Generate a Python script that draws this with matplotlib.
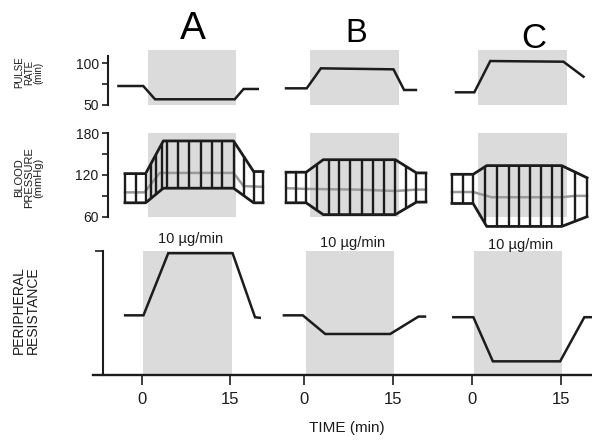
import numpy as np
import matplotlib
matplotlib.use("Agg")
import matplotlib.pyplot as plt
import matplotlib.transforms as mtransforms

plt.rcParams['font.family'] = ['Liberation Sans', 'DejaVu Sans']

# ---------------- data (time in min relative to start of infusion) ----------------
panels = ['A', 'B', 'C']
dose_label = '10 µg/min'
time_tick_values = [0, 15]
time_tick_labels = ['0', '15']
infusion_start, infusion_end = 0.3, 15.3

# Pulse rate (beats/min)
pulse_t_A = [-4.7, -0.5, 1.5, 15.0, 16.5, 18.9]
pulse_A = [72.3, 72.3, 56.3, 56.3, 68.7, 68.7]
pulse_t_B = [-3.8, -0.3, 2.1, 14.4, 16.2, 18.2]
pulse_B = [69.5, 69.5, 93.6, 92.4, 67.5, 67.5]
pulse_t_C = [-3.5, -0.4, 2.3, 14.7, 18.1]
pulse_C = [64.7, 64.7, 102.4, 101.6, 83.5]

# Blood pressure envelope (mmHg): systolic / diastolic outline
bp_t_A = [-3.6, -0.1, 2.9, 14.8, 18.2, 19.8]
bp_sys_A = [122, 122, 169, 169, 125, 125]
bp_dia_A = [80, 80, 101, 101, 80, 80]
bp_t_B = [-3.8, -0.4, 2.5, 14.7, 18.3, 19.9]
bp_sys_B = [124, 124, 142, 142, 123, 123]
bp_dia_B = [80, 80, 63, 63, 81, 81]
bp_t_C = [-4.2, -0.6, 1.7, 14.4, 18.7]
bp_sys_C = [121, 121, 133.5, 133.5, 116]
bp_dia_C = [79, 79, 46, 46, 60]

# Mean blood pressure (gray line)
mean_t_A = [-3.6, -0.3, 2.3, 14.8, 16.5, 19.8]
mean_A = [95, 95, 123, 123, 104, 103]
mean_t_B = [-3.8, -0.4, 8.0, 14.7, 18.3, 19.9]
mean_B = [101, 100, 99, 97, 99, 99]
mean_t_C = [-4.2, -0.6, 2.5, 14.4, 16.7, 18.7]
mean_C = [95.5, 95.5, 88, 88, 90, 90]

# Beat / measurement times (vertical bars)
beats_A = [-3.6, -1.8, -0.1, 0.8, 1.6, 2.6, 3.6, 5.4, 7.3, 9.3, 11.1, 12.9, 14.8, 16.5, 18.2, 19.8]
beats_B = [-3.8, -2.1, -0.4, 1.4, 3.4, 5.2, 7.0, 9.0, 10.9, 12.8, 14.7, 16.5, 18.3, 19.9]
beats_C = [-4.2, -2.3, -0.6, 1.4, 3.4, 5.4, 7.2, 9.1, 10.9, 12.7, 14.4, 16.7, 18.7]

# Peripheral resistance (arbitrary units)
pr_t_A = [-2.8, 0.3, 4.5, 15.4, 19.2, 20.0]
pr_A = [4.8, 4.8, 9.8, 9.8, 4.65, 4.6]
pr_t_B = [-3.4, -0.2, 3.6, 14.6, 19.4, 20.5]
pr_B = [4.8, 4.8, 3.3, 3.3, 4.7, 4.7]
pr_t_C = [-3.2, 0.2, 3.5, 14.9, 19.0, 20.3]
pr_C = [4.65, 4.65, 1.1, 1.1, 4.65, 4.65]

# ---------------- layout ----------------
block_offset = {'A': 0.0, 'B': 27.5, 'C': 56.0}
XLIM = (-8.2, 76.3)
W, H = 592, 443
INK = '#1c1c1c'
SHADE = '#dbdbdb'
MEAN_GRAY = '#9a9a9a'

pulse = {'A': (pulse_t_A, pulse_A), 'B': (pulse_t_B, pulse_B), 'C': (pulse_t_C, pulse_C)}
bp = {'A': (bp_t_A, bp_sys_A, bp_dia_A), 'B': (bp_t_B, bp_sys_B, bp_dia_B), 'C': (bp_t_C, bp_sys_C, bp_dia_C)}
bp_mean = {'A': (mean_t_A, mean_A), 'B': (mean_t_B, mean_B), 'C': (mean_t_C, mean_C)}
beats = {'A': beats_A, 'B': beats_B, 'C': beats_C}
pr = {'A': (pr_t_A, pr_A), 'B': (pr_t_B, pr_B), 'C': (pr_t_C, pr_C)}


def rect(left, top, right, bottom):
    return [left / W, 1 - bottom / H, (right - left) / W, (bottom - top) / H]


fig = plt.figure(figsize=(W / 100, H / 100), dpi=100)
fig.patch.set_facecolor('white')

ax_pulse = fig.add_axes(rect(97.8, 50, 596.5, 105))
ax_bp = fig.add_axes(rect(97.8, 133.3, 596.5, 216.7))
ax_pr = fig.add_axes(rect(93.3, 250.7, 592, 375))

for ax in (ax_pulse, ax_bp, ax_pr):
    ax.set_xlim(*XLIM)
    ax.set_facecolor('none')
    for s in ('top', 'right'):
        ax.spines[s].set_visible(False)
    ax.spines['left'].set_linewidth(1.5)
    ax.spines['left'].set_color(INK)
    for p in panels:
        off = block_offset[p]
        ax.axvspan(off + infusion_start, off + infusion_end, color=SHADE, lw=0, zorder=0)

# ----- pulse rate -----
ax_pulse.set_ylim(49.4, 115.7)
ax_pulse.spines['bottom'].set_visible(False)
ax_pulse.spines['left'].set_position(('data', -6.4))
ax_pulse.spines['left'].set_bounds(49.4, 108.5)
ax_pulse.set_xticks([])
ax_pulse.set_yticks([50, 75, 100])
ax_pulse.set_yticklabels(['50', '', '100'])
for p in panels:
    t, v = pulse[p]
    ax_pulse.plot(np.array(t) + block_offset[p], v, color=INK, lw=1.8, solid_joinstyle='miter')

# ----- blood pressure -----
ax_bp.set_ylim(60, 180)
ax_bp.spines['bottom'].set_visible(False)
ax_bp.spines['left'].set_position(('data', -6.4))
ax_bp.set_xticks([])
ax_bp.set_yticks([60, 90, 120, 150, 180])
ax_bp.set_yticklabels(['60', '', '120', '', '180'])
for p in panels:
    off = block_offset[p]
    t, sys_, dia_ = bp[p]
    tm, m = bp_mean[p]
    ax_bp.plot(np.array(tm) + off, m, color=MEAN_GRAY, lw=1.8, clip_on=False, zorder=2)
    tb = np.array(beats[p])
    ax_bp.vlines(tb + off, np.interp(tb, t, dia_), np.interp(tb, t, sys_),
                 color=INK, lw=1.7, clip_on=False, zorder=3)
    ax_bp.plot(np.array(t) + off, sys_, color=INK, lw=2.0, clip_on=False, zorder=4)
    ax_bp.plot(np.array(t) + off, dia_, color=INK, lw=2.0, clip_on=False, zorder=4)

for ax in (ax_pulse, ax_bp):
    ax.tick_params(axis='y', direction='out', length=4, width=1.2, colors=INK,
                   labelsize=10, pad=3)

# ----- peripheral resistance -----
ax_pr.set_ylim(0, 10)
ax_pr.spines['bottom'].set_linewidth(1.7)
ax_pr.spines['bottom'].set_color(INK)
ax_pr.spines['left'].set_position(('data', -6.5))
ax_pr.set_yticks([10])
ax_pr.set_yticklabels([''])
ax_pr.tick_params(axis='y', direction='out', length=6, width=1.2, colors=INK)
xt, xl = [], []
for p in panels:
    for v, lab in zip(time_tick_values, time_tick_labels):
        xt.append(block_offset[p] + v)
        xl.append(lab)
ax_pr.set_xticks(xt)
ax_pr.set_xticklabels(xl)
ax_pr.tick_params(axis='x', direction='out', length=7, width=1.2, colors=INK,
                  labelsize=12, pad=5)
for p in panels:
    t, v = pr[p]
    ax_pr.plot(np.array(t) + block_offset[p], v, color=INK, lw=1.8, solid_joinstyle='miter')

# dose labels
trans = mtransforms.blended_transform_factory(ax_pr.transData, ax_pr.transAxes)
for p, ya in zip(panels, [1.094, 1.062, 1.046]):
    ax_pr.text(block_offset[p] + 8.2, ya, dose_label, transform=trans, ha='center',
               va='center', fontsize=10.5, color=INK)

# panel letters
for p, (px, py, fs) in zip(panels, [(192.5, 29, 28), (356.7, 33.3, 23.5), (533.7, 39, 25)]):
    fig.text(px / W, 1 - py / H, p, ha='center', va='center', fontsize=fs, color='black')

# y-axis titles
fig.text(29 / W, 1 - 72.5 / H, 'PULSE\nRATE\n(min)', rotation=90, ha='center', va='center',
         fontsize=7, linespacing=0.95, color=INK)
fig.text(29 / W, 1 - 178 / H, 'BLOOD\nPRESSURE\n(mmHg)', rotation=90, ha='center', va='center',
         fontsize=8, linespacing=0.95, color=INK)
fig.text(26 / W, 1 - 310 / H, 'PERIPHERAL\nRESISTANCE', rotation=90, ha='center', va='center',
         fontsize=10, linespacing=0.95, color=INK)
fig.text(347 / W, 1 - 428 / H, 'TIME (min)', ha='center', va='center', fontsize=11, color=INK)

fig.savefig('out.png', dpi=100)
